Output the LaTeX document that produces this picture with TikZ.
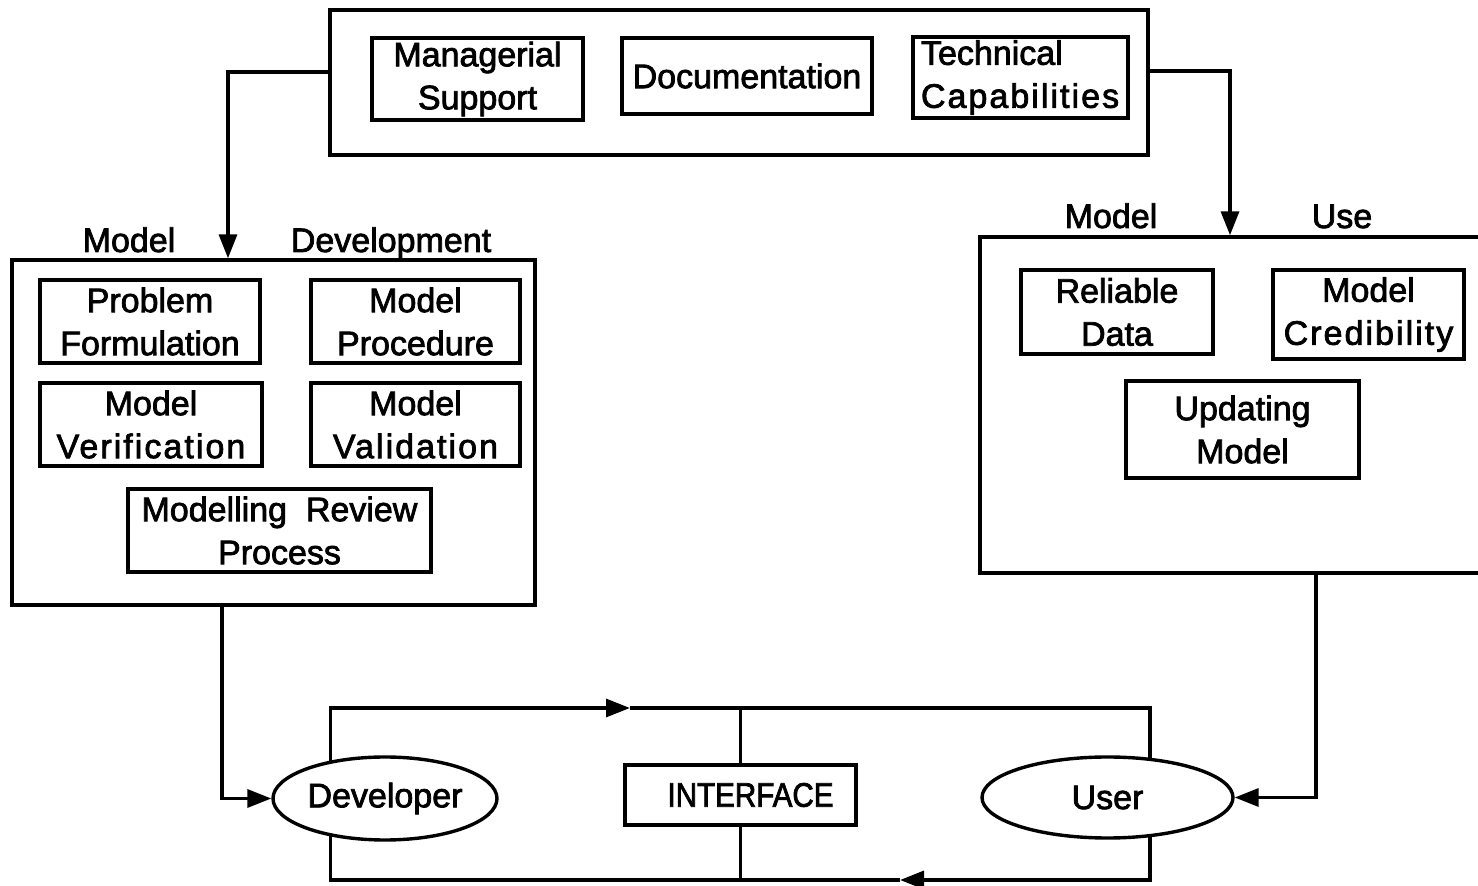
\documentclass[tikz,border=0pt]{standalone}
\usepackage{fontspec}
\usetikzlibrary{arrows.meta,calc,shapes.geometric}
\newfontfamily\dfont{Liberation Sans}[FakeBold=2.2]
\newfontfamily\wfont{Liberation Sans}[FakeBold=2.2,LetterSpace=6]
\newfontfamily\cfont{Liberation Sans}[FakeBold=2.2,FakeStretch=0.87]
\tikzset{
  lw/.style={line width=1.7pt},
  txt/.style={font=\dfont\fontsize{17pt}{21.5pt}\selectfont, align=center, inner sep=0pt},
  box/.style={txt, draw, lw, rectangle},
  bigbox/.style={draw, lw, rectangle, inner sep=0pt},
  oval/.style={txt, draw, lw, ellipse},
  conn/.style={lw},
  arr/.style={lw, -{Triangle[length=12pt,width=9pt]}},
}
\begin{document}
\begin{tikzpicture}[x=0.5pt,y=-0.5pt]
\useasboundingbox (0,0) rectangle (1478,886);
\clip (0,0) rectangle (1478,886);
\fill[white] (0,0) rectangle (1478,886);

% top box
\node[bigbox, minimum width=409pt, minimum height=72.5pt] (top) at (739,82.5) {};
\node[box, minimum width=105.5pt, minimum height=41pt] (ms) at (477.5,79) {Managerial\\Support};
\node[box, minimum width=125pt, minimum height=38pt] (doc) at (747,76) {Documentation};
\node[box, minimum width=107.5pt, minimum height=40.5pt, align=left, text width=99.5pt, inner xsep=4pt] (tc) at (1020.5,77.5) {Technical\\{\wfont Capabilities}};

% model development
\node[bigbox, minimum width=261.5pt, minimum height=172.5pt] (devbox) at (273.5,432.5) {};
\node[txt, anchor=base] (lmodel) at (129,252) {Model};
\node[txt, anchor=base] (ldev) at (391,252) {Development};
\node[box, minimum width=110pt, minimum height=41.5pt] (pf) at (150,321.5) {Problem\\Formulation};
\node[box, minimum width=104.5pt, minimum height=41.5pt] (mp) at (415.5,321.5) {Model\\Procedure};
\node[box, minimum width=111pt, minimum height=41.5pt] (mv) at (151,424.5) {Model\\{\wfont Verification}};
\node[box, minimum width=104.5pt, minimum height=41.5pt] (mval) at (415.5,424.5) {Model\\{\wfont Validation}};
\node[box, minimum width=151.5pt, minimum height=41.5pt] (mrp) at (279.5,530.5) {Modelling\ \ Review\\Process};

% model use
\node[bigbox, minimum width=260pt, minimum height=168pt] (usebox) at (1240,405) {};
\node[txt, anchor=base] (rmodel) at (1111,228) {Model};
\node[txt, anchor=base] (ruse) at (1342,228) {Use};
\node[box, minimum width=96pt, minimum height=42pt] (rd) at (1117,312) {Reliable\\Data};
\node[box, minimum width=95.5pt, minimum height=44.5pt] (mc) at (1368.5,314.5) {Model\\{\wfont Credibility}};
\node[box, minimum width=116.5pt, minimum height=48.5pt] (um) at (1242.5,429.5) {Updating\\Model};

% bottom
\node[oval, minimum width=112pt, minimum height=41.5pt, inner sep=0pt] (dev) at (385,798.5) {Developer};
\node[oval, minimum width=125.5pt, minimum height=40.5pt, inner sep=0pt] (user) at (1107.5,797.5) {User};
\node[box, minimum width=115.5pt, minimum height=30pt, font=\cfont\fontsize{17pt}{21.5pt}\selectfont] (iface) at (740.5,795) {\hspace*{10pt}INTERFACE};

% coordinates
\coordinate (ltap) at (228,0);
\coordinate (rtap) at (1230,0);
\coordinate (lbot) at (222,0);
\coordinate (rbot) at (1316,0);
\coordinate (toprow) at (0,708);
\coordinate (botrow) at (0,880);
\coordinate (arrA) at (630,708);
\coordinate (arrB) at (900,880);

% connectors
\draw[arr] ($(top.west)+(0,-10.5)$) -| (ltap |- devbox.north);
\draw[arr] ($(top.east)+(0,-11.5)$) -| (rtap |- usebox.north);
\draw[arr] (lbot |- devbox.south) |- (dev.west);
\draw[arr] (rbot |- usebox.south) |- (user.east);

\draw[arr] (dev.145) |- (arrA);
\draw[conn] (arrA) -| (user.43);
\draw[arr] (user.317) |- (arrB);
\draw[conn] (arrB) -| (dev.215);
\draw[conn] (iface.north) -- (iface.north |- toprow);
\draw[conn] (iface.south) -- (iface.south |- botrow);
\end{tikzpicture}
\end{document}
